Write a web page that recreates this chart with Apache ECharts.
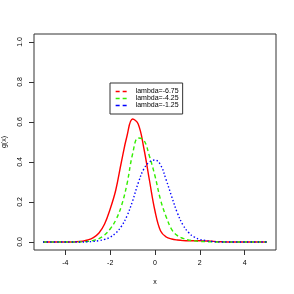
<!DOCTYPE html>
<html>
<head>
<meta charset="utf-8">
<script src="https://cdn.jsdelivr.net/npm/echarts@6/dist/echarts.min.js"></script>
<style>
html,body{margin:0;padding:0;background:#fff;}
#c{width:294px;height:294px;}
</style>
</head>
<body>
<div id="c"></div>
<script>
// x grid (step 0.25 from -5 to 5)
const xs = [-5,-4.75,-4.5,-4.25,-4,-3.75,-3.5,-3.25,-3,-2.75,-2.5,-2.25,-2,-1.75,-1.5,-1.25,-1,-0.75,-0.5,-0.25,0,0.25,0.5,0.75,1,1.25,1.5,1.75,2,2.25,2.5,2.75,3,3.25,3.5,3.75,4,4.25,4.5,4.75,5];
const seriesNames = ['lambda=-6.75','lambda=-4.25','lambda=-1.25'];
const gRed   = [0,0,0,0,0,0,0.001,0.004,0.01,0.022,0.045,0.09,0.165,0.26,0.40,0.53,0.615,0.59,0.47,0.31,0.155,0.055,0.025,0.015,0.01,0.007,0.006,0.006,0.006,0.005,0.004,0.002,0.001,0,0,0,0,0,0,0,0];
const gGreen = [0,0,0,0,0,0,0,0.001,0.003,0.008,0.017,0.035,0.065,0.11,0.18,0.29,0.44,0.52,0.51,0.43,0.33,0.21,0.125,0.062,0.032,0.018,0.01,0.006,0.003,0.002,0.001,0,0,0,0,0,0,0,0,0,0];
const gBlue  = [0,0,0,0,0,0,0,0,0.001,0.003,0.007,0.013,0.024,0.045,0.078,0.13,0.205,0.295,0.365,0.40,0.41,0.385,0.31,0.225,0.145,0.085,0.047,0.025,0.013,0.007,0.003,0.001,0,0,0,0,0,0,0,0,0];
const xTicks = [-4,-2,0,2,4];
const yTicks = [0,0.2,0.4,0.6,0.8,1.0];

const pairs = ys => xs.map((x,i)=>[x, ys[i]]);
const font = 'Liberation Sans, Arial, Helvetica, sans-serif';
const chart = echarts.init(document.getElementById('c'), null, {renderer:'canvas'});
chart.setOption({
  animation:false,
  backgroundColor:'#fff',
  grid:{left:34,right:18,top:34,bottom:44,show:true,borderColor:'#333',borderWidth:1,backgroundColor:'transparent',containLabel:false,outerBoundsMode:'none'},
  legend:{
    orient:'vertical', left:110, top:83,
    data:seriesNames,
    itemWidth:13, itemHeight:7.5, itemGap:0,
    padding:[5,4,5,5],
    borderColor:'#333', borderWidth:1,
    textStyle:{fontSize:7, fontFamily:font, color:'#000', padding:[0,0,0,2]},
    lineStyle:{type:[4,3], width:1.3},
    itemStyle:{opacity:0, borderWidth:0},
    selectedMode:false
  },
  xAxis:{
    type:'value', min:-5.4, max:5.4,
    name:'x', nameLocation:'middle', nameGap:29,
    nameTextStyle:{fontSize:7,fontFamily:font,color:'#000'},
    axisLine:{show:false,onZero:false},
    axisTick:{show:true,length:5,lineStyle:{color:'#333'},customValues:xTicks},
    axisLabel:{fontSize:7,fontFamily:font,color:'#000',margin:10,customValues:xTicks,formatter:v=>String(v)},
    splitLine:{show:false}
  },
  yAxis:{
    type:'value', min:-0.04, max:1.04,
    name:'g(x)', nameLocation:'middle', nameGap:26,
    nameTextStyle:{fontSize:7,fontFamily:font,color:'#000'},
    axisLine:{show:false,onZero:false},
    axisTick:{show:true,length:5,lineStyle:{color:'#333'},customValues:yTicks},
    axisLabel:{fontSize:7,fontFamily:font,color:'#000',margin:10,rotate:90,customValues:yTicks,formatter:v=>v.toFixed(1)},
    splitLine:{show:false}
  },
  series:[
    {name:seriesNames[0],type:'line',data:pairs(gRed),symbol:'none',smooth:0.4,color:'#ff0000',lineStyle:{width:1.4,type:'solid'}},
    {name:seriesNames[1],type:'line',data:pairs(gGreen),symbol:'none',smooth:0.4,color:'#33ee00',lineStyle:{width:1.4,type:[4,3]}},
    {name:seriesNames[2],type:'line',data:pairs(gBlue),symbol:'none',smooth:0.4,color:'#0000ff',lineStyle:{width:1.4,type:[1.4,2.2]}}
  ]
});
</script>
</body>
</html>
